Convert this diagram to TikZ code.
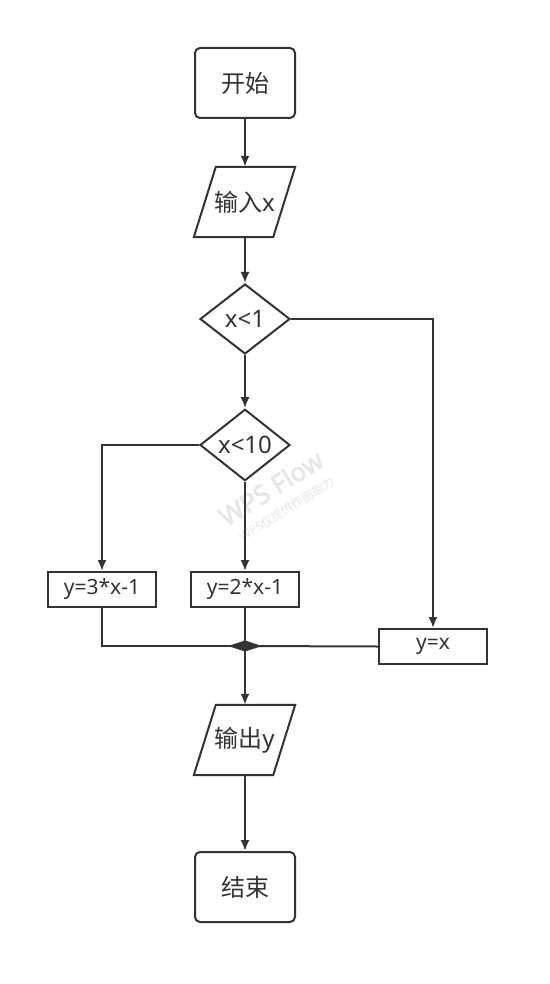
\documentclass[tikz,border=0pt]{standalone}
\usepackage{fontspec}
\setmainfont{Noto Sans}
\newfontfamily\cjk{Noto Sans CJK SC}
\newfontfamily\wmfont{Noto Sans}[FakeBold=2]
\usetikzlibrary{shapes.geometric,arrows.meta}
\definecolor{ink}{HTML}{333333}
\definecolor{wm}{HTML}{E6E6E6}
\begin{document}
\begin{tikzpicture}[x=1pt,y=-1pt,
  every node/.style={text=ink},
  edge/.style={draw=ink,line width=2pt},
  arr/.style={edge,-{Latex[length=11pt,width=9pt]}},
  term/.style={draw=ink,line width=2pt,rounded corners=5pt,minimum width=100pt,minimum height=70pt,inner sep=0pt,font=\fontsize{24}{28}\selectfont},
  io/.style={minimum width=101pt,minimum height=70pt,inner sep=0pt,font=\fontsize{24}{28}\selectfont},
  iobox/.style={draw=ink,line width=2pt,line join=miter},
  dec/.style={draw=ink,line width=2pt,diamond,minimum width=90pt,minimum height=70pt,inner sep=0pt,font=\fontsize{24}{28}\selectfont},
  proc/.style={draw=ink,line width=2pt,minimum width=108pt,minimum height=35pt,inner sep=0pt,font=\fontsize{21}{24}\selectfont}]
\useasboundingbox (0,0) rectangle (549,984);
% watermark
\node[rotate=32,text=wm,font=\wmfont\fontsize{26}{30}\selectfont] (wm1) at (271,488) {WPS Flow};
\node[rotate=32,text=wm,font=\fontsize{12}{14}\selectfont] (wm2) at (287,509) {WPS{\cjk 仅提供作图能力}};
% nodes
\node[term] (start) at (245,83) {{\cjk 开始}};
\node[io] (in) at (244.5,202) {{\cjk 输入}x};
\draw[iobox] ([xshift=22pt]in.north west) -- (in.north east) -- ([xshift=-22pt]in.south east) -- (in.south west) -- cycle;
\node[dec] (d1) at (245,319) {x<1};
\node[dec] (d2) at (245,445) {x<10};
\node[proc] (p3) at (102,589.5) {y=3*x-1};
\node[proc] (p2) at (245,589.5) {y=2*x-1};
\node[proc] (p1) at (433,646.5) {y=x};
\coordinate (m) at (245,646);
\node[io] (out) at (244.5,740) {{\cjk 输出}y};
\draw[iobox] ([xshift=22pt]out.north west) -- (out.north east) -- ([xshift=-22pt]out.south east) -- (out.south west) -- cycle;
\node[term] (end) at (245,887) {{\cjk 结束}};
% connectors
\draw[arr] (start) -- (start |- in.north);
\draw[arr] (in.south -| start) -- (d1);
\draw[arr] (d1) -- (d2);
\draw[arr] (d1.east) -| (p1.north);
\draw[arr] (d2.west) -| (p3.north);
\draw[arr] (d2) -- (p2);
\draw[edge] (p3.south) |- (m);
\draw[edge] (p2.south) -- (m);
\draw[edge] (p1.west) -- (m);
\fill[ink] (228,646) -- (245,640.5) -- (262,646) -- (245,651.5) -- cycle;
\draw[arr] (m) -- (m |- out.north);
\draw[arr] (out.south -| m) -- (end);
\end{tikzpicture}
\end{document}
